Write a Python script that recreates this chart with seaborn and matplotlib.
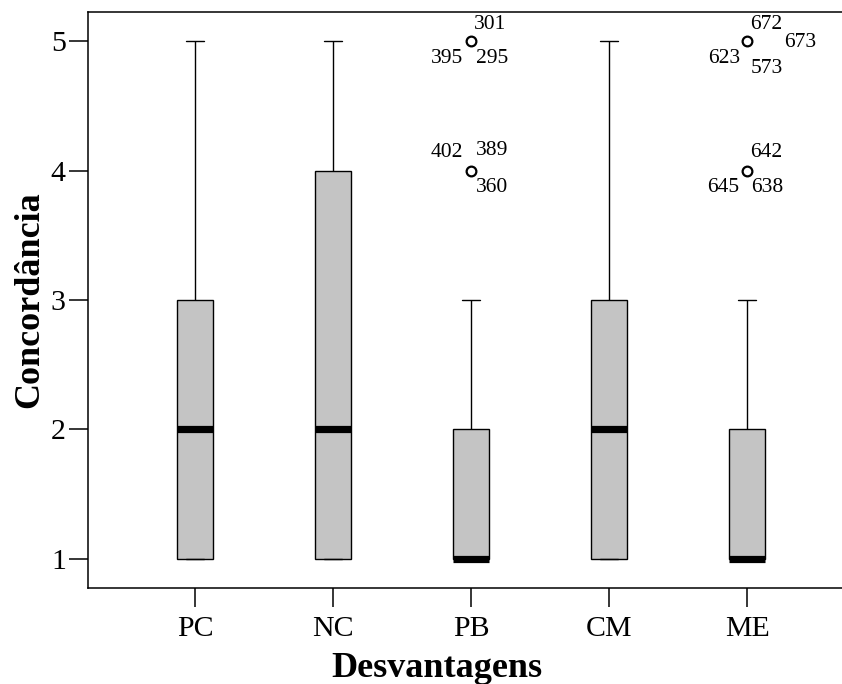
import matplotlib
matplotlib.use("Agg")
import matplotlib.pyplot as plt
import seaborn as sns
import pandas as pd

# Categories and representative response samples (reproduce the box statistics)
categories = ["PC", "NC", "PB", "CM", "ME"]
resp_PC = [1, 1, 2, 3, 5]
resp_NC = [1, 1, 2, 4, 5]
resp_PB = [1, 1, 1, 1, 1, 1, 1, 2, 2, 2, 3, 4, 5]
resp_CM = [1, 1, 2, 3, 5]
resp_ME = [1, 1, 1, 1, 1, 1, 1, 2, 2, 2, 3, 4, 5]

# Outlier case labels: (category, value, label)
out_cat = ["PB", "PB", "PB", "PB", "PB", "PB",
           "ME", "ME", "ME", "ME", "ME", "ME", "ME"]
out_val = [5, 5, 5, 4, 4, 4,
           5, 5, 5, 5, 4, 4, 4]
out_lab = ["301", "395", "295", "402", "389", "360",
           "672", "673", "623", "573", "642", "645", "638"]
out_off = [(19, 17), (-24, -17), (21, -17), (-24, 18), (21, 20), (21, -17),
           (19, 17), (53, -1), (-23, -17), (20, -27), (19, 18), (-24, -17), (20, -17)]

samples = [resp_PC, resp_NC, resp_PB, resp_CM, resp_ME]
df = pd.DataFrame({
    "Desvantagens": [c for c, s in zip(categories, samples) for _ in s],
    "Concordância": [v for s in samples for v in s],
})

sns.set_theme(style="white")
plt.rcParams["font.family"] = ["Liberation Serif", "DejaVu Serif"]

fig = plt.figure(figsize=(8.42, 6.84), dpi=100)
ax = fig.add_axes([88 / 842, 1 - 588 / 684, 766 / 842, 576 / 684])

sns.boxplot(
    data=df, x="Desvantagens", y="Concordância", order=categories, ax=ax,
    width=0.26, color="#c4c4c4", saturation=1, whis=1.5,
    boxprops=dict(edgecolor="black", linewidth=1.0),
    whiskerprops=dict(color="black", linewidth=1.0),
    capprops=dict(color="black", linewidth=1.0),
    medianprops=dict(color="black", linewidth=5.2, solid_capstyle="butt"),
    flierprops=dict(marker="o", markersize=7, markerfacecolor="white",
                    markeredgecolor="black", markeredgewidth=1.6),
)

for c, v, lab, off in zip(out_cat, out_val, out_lab, out_off):
    ax.annotate(lab, xy=(categories.index(c), v), xytext=off,
                textcoords="offset pixels", ha="center", va="center",
                fontsize=15.5, color="black")

ax.set_xlim(-0.775, 4.775)
ax.set_ylim(0.776, 5.224)
ax.set_yticks([1, 2, 3, 4, 5])
ax.set_yticklabels(["1", "2", "3", "4", "5"])

for side in ["left", "bottom", "top"]:
    ax.spines[side].set_visible(True)
    ax.spines[side].set_color("black")
    ax.spines[side].set_linewidth(1.1)
ax.spines["right"].set_visible(False)

ax.tick_params(axis="both", direction="out", length=14, width=1.1,
               color="black", labelsize=21.5, labelcolor="black", pad=2,
               left=True, bottom=True)
ax.tick_params(axis="x", pad=6)

ax.set_xlabel("Desvantagens", fontsize=26, fontweight="bold", color="black")
ax.set_ylabel("Concordância", fontsize=26, fontweight="bold", color="black")
ax.xaxis.set_label_coords((437 - 88) / 766, -(652 - 588) / 576)
ax.yaxis.set_label_coords(-(88 - 46) / 766, 0.5)

fig.savefig("out.png", dpi=100, facecolor="white")
